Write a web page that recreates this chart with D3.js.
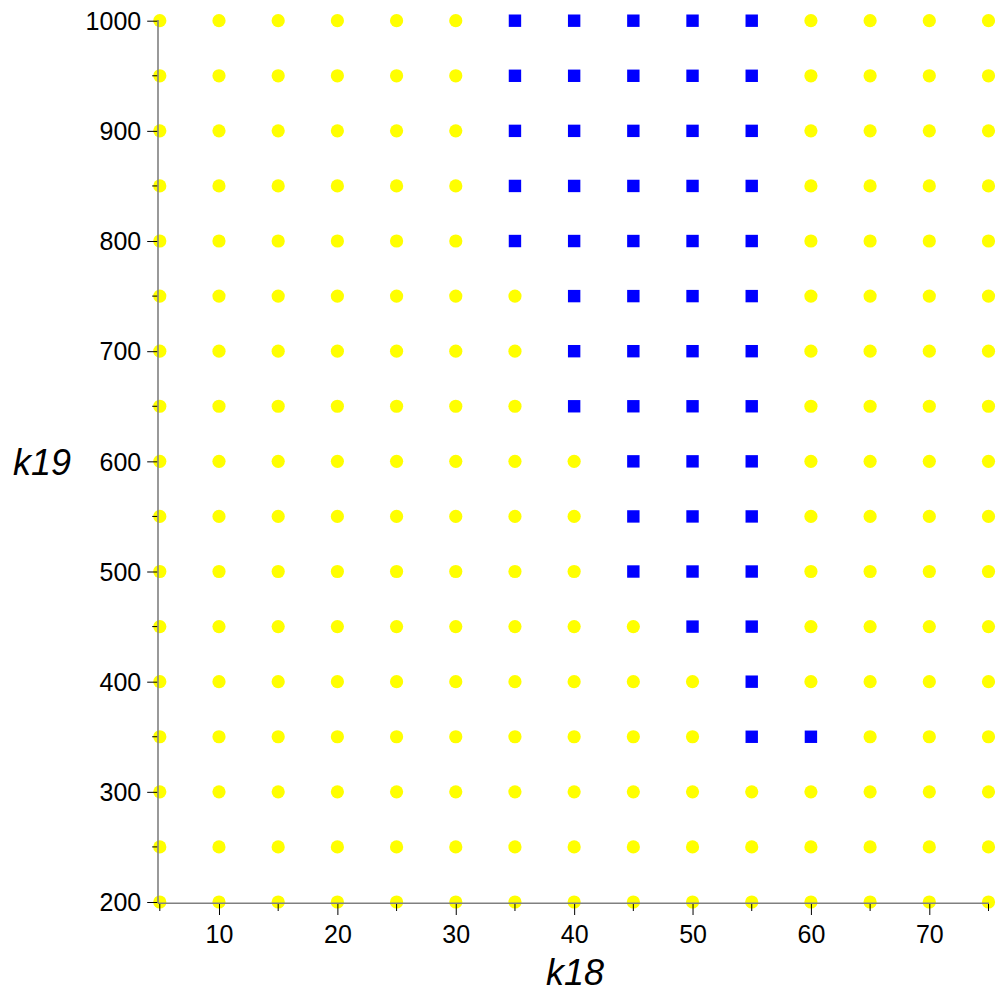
<!DOCTYPE html>
<html><head><meta charset="utf-8">
<script src="https://cdn.jsdelivr.net/npm/d3@7"></script>
<style>body{margin:0;background:#fff}svg{display:block}text{font-family:"Liberation Sans",Arial,sans-serif}</style>
</head><body>
<svg id="c" width="1000" height="1000"></svg>
<script>
const k18Values = [5,10,15,20,25,30,35,40,45,50,55,60,65,70,75];
const k19Values = [200,250,300,350,400,450,500,550,600,650,700,750,800,850,900,950,1000];
const bluePoints = [
  [35,1000],[40,1000],[45,1000],[50,1000],[55,1000],
  [35,950],[40,950],[45,950],[50,950],[55,950],
  [35,900],[40,900],[45,900],[50,900],[55,900],
  [35,850],[40,850],[45,850],[50,850],[55,850],
  [35,800],[40,800],[45,800],[50,800],[55,800],
  [40,750],[45,750],[50,750],[55,750],
  [40,700],[45,700],[50,700],[55,700],
  [40,650],[45,650],[50,650],[55,650],
  [45,600],[50,600],[55,600],
  [45,550],[50,550],[55,550],
  [45,500],[50,500],[55,500],
  [50,450],[55,450],
  [55,400],
  [55,350],[60,350]
];
const xTickLabels = [10,20,30,40,50,60,70];
const yTickLabels = [200,300,400,500,600,700,800,900,1000];
const xMinor = [5,15,25,35,45,55,65,75];
const yMinor = [250,350,450,550,650,750,850,950];

const svg = d3.select("#c");
const x = d3.scaleLinear().domain([5,75]).range([159.8,988.5]);
const y = d3.scaleLinear().domain([200,1000]).range([902,20.7]);

const blueSet = new Set(bluePoints.map(d=>d[0]+"_"+d[1]));
const pts = [];
k19Values.forEach(b=>k18Values.forEach(a=>pts.push({a,b,blue:blueSet.has(a+"_"+b)})));

const g = svg.append("g");
g.selectAll("circle").data(pts.filter(d=>!d.blue)).join("circle")
  .attr("cx",d=>x(d.a)).attr("cy",d=>y(d.b)).attr("r",6.6).attr("fill","#ffff00");
const s = 12.4;
g.selectAll("rect").data(pts.filter(d=>d.blue)).join("rect")
  .attr("x",d=>x(d.a)-s/2).attr("y",d=>y(d.b)-s/2).attr("width",s).attr("height",s).attr("fill","#0000ff");

// axes
const ax = svg.append("g");
const x0 = 158, y0 = 903.3;
ax.append("line").attr("x1",x0).attr("x2",x0).attr("y1",20).attr("y2",y0).attr("stroke","#808080").attr("stroke-width",1.6);
ax.append("line").attr("x1",x0).attr("x2",989).attr("y1",y0).attr("y2",y0).attr("stroke","#808080").attr("stroke-width",1.6);

const xAxis = d3.axisBottom(x).tickValues(xTickLabels).tickSize(11).tickSizeOuter(0).tickFormat(d3.format("d"));
const xa = svg.append("g").attr("transform",`translate(0,${y0+0.7})`).call(xAxis);
xa.select(".domain").remove();
xa.selectAll(".tick line").attr("stroke","#000");
xa.selectAll(".tick text").attr("font-size",25).attr("fill","#000").attr("dy","0").attr("y",39);
svg.append("g").attr("transform",`translate(0,${y0+0.7})`).selectAll("line").data(xMinor).join("line")
  .attr("x1",d=>x(d)).attr("x2",d=>x(d)).attr("y1",0).attr("y2",7).attr("stroke","#000");

const yAxis = d3.axisLeft(y).tickValues(yTickLabels).tickSize(10).tickSizeOuter(0).tickFormat(d3.format("d"));
const ya = svg.append("g").attr("transform",`translate(${x0-0.8},0)`).call(yAxis);
ya.select(".domain").remove();
ya.selectAll(".tick line").attr("stroke","#000");
ya.selectAll(".tick text").attr("font-size",25).attr("fill","#000").attr("x",-16).attr("dy","0.35em");
svg.append("g").attr("transform",`translate(${x0-0.8},0)`).selectAll("line").data(yMinor).join("line")
  .attr("y1",d=>y(d)).attr("y2",d=>y(d)).attr("x1",0).attr("x2",-5).attr("stroke","#000");

svg.append("text").attr("x",575).attr("y",985).attr("text-anchor","middle").attr("font-size",36).attr("font-style","italic").text("k18");
svg.append("text").attr("x",42).attr("y",475).attr("text-anchor","middle").attr("font-size",36).attr("font-style","italic").text("k19");
</script>
</body></html>
